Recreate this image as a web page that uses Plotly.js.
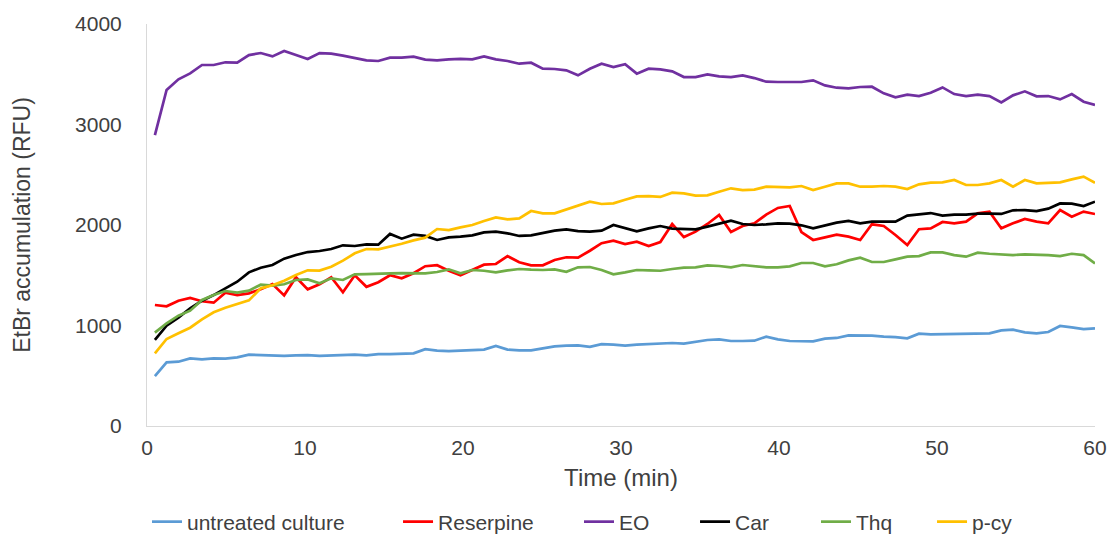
<!DOCTYPE html>
<html>
<head>
<meta charset="utf-8">
<script src="https://cdn.plot.ly/plotly-3.0.1.min.js"></script>
<style>
  html, body { margin: 0; padding: 0; background: #ffffff; }
  #chart { width: 1109px; height: 537px; }
</style>
</head>
<body>
<div id="chart"></div>
<script>
const timeMin = [0.5,1.24,1.99,2.73,3.48,4.22,4.96,5.71,6.45,7.2,7.94,8.68,9.43,10.17,10.92,11.66,12.4,13.15,13.89,14.64,15.38,16.12,16.87,17.61,18.36,19.1,19.84,20.59,21.33,22.08,22.82,23.56,24.31,25.05,25.8,26.54,27.28,28.03,28.77,29.52,30.26,31.0,31.75,32.49,33.24,33.98,34.72,35.47,36.21,36.96,37.7,38.44,39.19,39.93,40.68,41.42,42.16,42.91,43.65,44.4,45.14,45.88,46.63,47.37,48.12,48.86,49.6,50.35,51.09,51.84,52.58,53.32,54.07,54.81,55.56,56.3,57.04,57.79,58.53,59.28,60.0];

const untreated = [497,634,640,673,663,673,670,683,710,706,
  706,697,703,706,697,703,710,710,703,716,
  716,716,723,765,750,746,750,750,760,796,
  760,753,752,772,792,800,803,788,815,810,
  800,810,816,822,826,819,836,856,862,846,
  846,849,889,862,846,843,843,869,876,902,
  902,899,889,885,872,919,912,915,912,922,
  925,922,952,958,932,922,935,995,982,965,972];

const reserpine = [1204,1191,1247,1274,1241,1227,1326,1303,1320,1360,
  1413,1300,1480,1360,1410,1480,1330,1500,1385,1430,
  1500,1470,1520,1590,1600,1545,1500,1549,1605,1612,
  1690,1630,1599,1599,1652,1679,1675,1744,1819,1844,
  1811,1834,1790,1830,2010,1880,1934,2010,2100,1930,
  1990,2017,2103,2170,2190,1930,1851,1877,1904,1884,
  1851,2007,1990,1900,1800,1958,1967,2030,2017,2033,
  2116,2133,1967,2017,2060,2033,2017,2149,2083,2133,2109];

const eo = [2895,3343,3450,3509,3592,3592,3619,3615,3691,3711,
  3678,3731,3691,3652,3711,3705,3685,3662,3638,3632,
  3665,3665,3675,3645,3638,3648,3652,3648,3678,3648,
  3632,3605,3615,3555,3552,3539,3489,3555,3605,3572,
  3600,3506,3555,3549,3529,3472,3472,3499,3479,3472,
  3489,3462,3426,3423,3426,3423,3439,3389,3366,3360,
  3373,3376,3310,3270,3297,3283,3316,3369,3303,3283,
  3297,3283,3220,3290,3330,3280,3283,3250,3303,3227,3194];

const car = [856,998,1078,1171,1247,1303,1370,1436,1529,1575,
  1602,1665,1701,1731,1741,1761,1798,1791,1808,1804,
  1911,1864,1904,1891,1851,1877,1884,1897,1927,1934,
  1917,1891,1897,1924,1944,1957,1940,1934,1944,2000,
  1967,1937,1967,1990,1964,1957,1957,1984,2013,2043,
  2010,2000,2007,2017,2013,1997,1967,1997,2023,2040,
  2017,2033,2033,2033,2093,2106,2119,2093,2103,2103,
  2113,2113,2110,2146,2149,2139,2163,2215,2212,2189,2232];

const thq = [929,1022,1098,1148,1254,1303,1343,1327,1347,1406,
  1396,1410,1453,1459,1420,1469,1453,1509,1512,1512,
  1519,1522,1522,1519,1532,1559,1519,1552,1545,1529,
  1549,1562,1555,1552,1559,1535,1579,1582,1552,1509,
  1529,1552,1549,1545,1562,1575,1579,1599,1592,1579,
  1602,1592,1579,1579,1589,1622,1622,1589,1609,1648,
  1675,1632,1632,1658,1685,1691,1728,1728,1701,1685,
  1724,1714,1705,1701,1708,1708,1701,1691,1714,1701,1618];

const pcy = [723,866,922,978,1061,1131,1177,1214,1250,1370,
  1400,1446,1502,1549,1546,1585,1645,1718,1761,1758,
  1784,1814,1847,1874,1960,1950,1977,2000,2040,2076,
  2056,2066,2139,2116,2116,2156,2193,2232,2209,2216,
  2252,2285,2288,2279,2322,2315,2292,2295,2331,2365,
  2348,2352,2381,2381,2375,2388,2348,2381,2414,2414,
  2381,2381,2388,2381,2358,2405,2421,2424,2448,2398,
  2398,2414,2448,2381,2448,2414,2421,2424,2454,2481,2421];

const seriesNames = ["untreated culture", "Reserpine", "EO", "Car", "Thq", "p-cy"];
const seriesValues = [untreated, reserpine, eo, car, thq, pcy];
const seriesColors = ["#5B9BD5", "#FF0000", "#7030A0", "#000000", "#70AD47", "#FFC000"];

const xTickVals = [0, 10, 20, 30, 40, 50, 60];
const yTickVals = [0, 1000, 2000, 3000, 4000];

// one legend per entry so each entry sits where it does in the original
const legendIds = ["legend", "legend2", "legend3", "legend4", "legend5", "legend6"];
const legendX = [0.0, 0.2648, 0.4557, 0.5781, 0.7057, 0.8281];

const traces = seriesNames.map((name, k) => ({
  type: "scatter",
  mode: "lines",
  name: name,
  x: timeMin,
  y: seriesValues[k],
  legend: legendIds[k],
  line: { color: seriesColors[k], width: 2.7 },
  hoverinfo: "x+y+name"
}));

const fontFam = "Liberation Sans, Arial, sans-serif";
const textColor = "#404040";

const layout = {
  width: 1109,
  height: 537,
  paper_bgcolor: "#ffffff",
  plot_bgcolor: "#ffffff",
  margin: { l: 147, r: 14, t: 24, b: 111, autoexpand: false },
  showlegend: true,
  font: { family: fontFam, color: textColor, size: 21 },
  xaxis: {
    range: [0, 60],
    tickvals: xTickVals,
    ticktext: xTickVals.map(String),
    showgrid: false,
    zeroline: false,
    showline: true,
    linecolor: "#d9d9d9",
    linewidth: 1,
    ticks: "",
    ticklabelstandoff: 3,
    tickfont: { family: fontFam, size: 21, color: textColor },
    title: { text: "Time (min)", font: { family: fontFam, size: 24, color: textColor }, standoff: 10 }
  },
  yaxis: {
    range: [0, 4000],
    tickvals: yTickVals,
    ticktext: yTickVals.map(String),
    showgrid: false,
    zeroline: false,
    showline: true,
    linecolor: "#d9d9d9",
    linewidth: 1,
    ticks: "",
    ticklabelstandoff: 20,
    tickfont: { family: fontFam, size: 21, color: textColor },
    title: { text: "EtBr accumulation (RFU)", font: { family: fontFam, size: 23, color: textColor }, standoff: 38 }
  }
};

legendIds.forEach((id, k) => {
  layout[id] = {
    orientation: "h",
    x: legendX[k],
    xanchor: "left",
    y: -0.2388,
    yanchor: "middle",
    font: { family: fontFam, size: 21, color: textColor },
    bgcolor: "rgba(0,0,0,0)",
    borderwidth: 0,
    itemwidth: 30
  };
});

Plotly.newPlot("chart", traces, layout, { displayModeBar: false, staticPlot: true });
</script>
</body>
</html>
